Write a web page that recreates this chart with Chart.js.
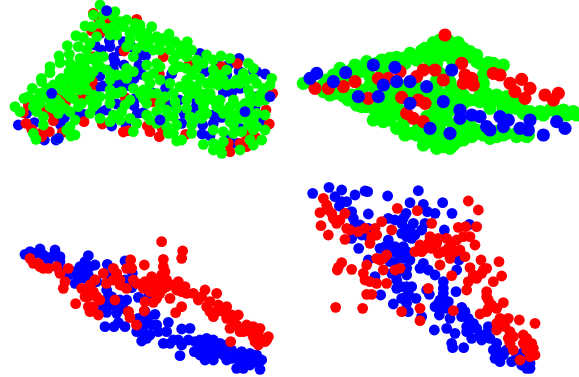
<!DOCTYPE html>
<html><head><meta charset="utf-8">
<style>html,body{margin:0;padding:0;background:#fff;width:579px;height:377px;overflow:hidden}
.p{position:absolute}</style>
<script src="https://cdn.jsdelivr.net/npm/chart.js@4"></script></head><body>
<div class="p" style="left:0;top:0;width:290px;height:170px"><canvas id="c1"></canvas></div>
<div class="p" style="left:290px;top:20px;width:289px;height:150px"><canvas id="c2"></canvas></div>
<div class="p" style="left:10px;top:225px;width:270px;height:152px"><canvas id="c3"></canvas></div>
<div class="p" style="left:300px;top:180px;width:250px;height:197px"><canvas id="c4"></canvas></div>
<script>
const aBlueBack=[[320,32],[155,280],[480,360],[175,415],[735,335],[810,290]];
const aGreen=[[300,15],[322,35],[345,35],[280,45],[255,78],[275,80],[228,107],[202,137],[177,168],[180,188],[150,200],[150,218],[124,235],[125,245],[97,265],[120,280],[72,295],[45,320],[60,335],[100,320],[130,350],[108,418],[175,415],[212,408],[225,405],[150,300],[160,255],[185,235],[207,215],[225,200],[240,175],[208,163],[235,140],[260,150],[250,112],[290,110],[340,50],[380,60],[405,70],[370,80],[400,90],[455,80],[507,102],[420,110],[450,120],[480,130],[505,125],[540,138],[562,125],[575,150],[620,165],[663,168],[690,175],[745,190],[760,205],[815,235],[810,255],[790,265],[795,300],[750,310],[745,330],[795,345],[795,390],[785,420],[760,435],[720,450],[665,460],[640,450],[610,433],[545,420],[530,423],[505,400],[470,370],[410,370],[360,360],[300,355],[280,320],[235,320],[210,335],[175,340],[240,250],[220,265],[200,280],[230,230],[260,210],[290,190],[310,170],[350,225],[400,170],[440,195],[470,190],[520,180],[540,200],[575,225],[600,190],[640,210],[650,240],[620,250],[590,260],[560,240],[540,260],[520,280],[480,240],[450,250],[430,270],[400,265],[440,310],[470,335],[500,350],[530,375],[575,375],[600,345],[650,320],[700,300],[690,340],[720,355],[700,375],[670,395],[760,360],[760,390],[580,280],[620,300],[630,280],[460,220],[380,205],[330,290],[300,290],[270,300],[340,345],[390,300],[520,350],[480,150],[440,140],[390,120],[350,105],[300,200],[250,190],[170,300],[130,290],[120,310],[130,375],[330,270],[365,275],[620,340],[670,425],[575,400],[210,380],[225,360],[400,395],[360,65],[390,100],[340,80],[320,85],[300,70],[420,90],[430,130],[460,150],[510,150],[530,165],[560,170],[590,180],[520,210],[560,205],[600,235],[640,180],[670,240],[700,250],[740,240],[730,220],[660,300],[720,320],[740,350],[670,340],[640,300],[610,320],[560,300],[510,250],[560,270],[470,280],[440,230],[400,215],[370,225],[330,220],[270,230],[250,230],[210,240],[190,260],[180,310],[220,295],[260,270],[140,265],[350,280],[420,280],[480,310],[500,330],[440,345],[390,355],[330,310],[290,310],[180,240],[240,210],[260,180],[210,190],[280,215],[770,250],[770,340],[750,420],[660,440],[640,430],[520,400],[590,355],[620,280],[600,280],[775,305],[700,360],[700,400],[500,380],[450,360],[350,350],[100,300],[85,290],[150,320]];
const aGreenExtra=[[420,75],[440,100],[470,110],[490,115],[525,125],[545,160],[480,200],[560,155],[610,190],[590,205],[640,235],[680,255],[710,240],[745,270],[780,285],[750,285],[735,310],[690,320],[660,325],[710,345],[745,375],[770,380],[725,395],[690,365],[640,390],[605,355],[570,350],[560,325],[530,325],[610,285],[655,255],[600,300],[570,255],[525,305],[495,290],[450,280],[430,295],[375,315],[365,335],[330,365],[270,340],[245,310],[195,325],[160,325],[210,290],[255,245],[280,285],[210,215],[185,270],[330,240],[380,235],[350,75],[310,45],[330,105],[380,140],[410,145],[270,130],[270,175],[290,170],[320,210],[240,270],[110,335],[100,400],[200,390],[640,250],[680,210],[660,225],[720,250],[760,235]];
const aRed=[[295,55],[280,40],[410,58],[320,60],[275,92],[305,95],[338,95],[280,170],[372,153],[490,170],[568,193],[665,200],[712,190],[478,222],[212,250],[277,245],[272,268],[245,287],[196,308],[178,285],[160,290],[85,315],[70,338],[125,330],[150,335],[78,370],[95,388],[120,400],[125,410],[148,395],[160,362],[187,397],[252,365],[307,372],[375,292],[438,300],[458,305],[488,297],[442,378],[450,395],[478,410],[370,396],[385,392],[486,385],[557,403],[685,430],[690,455],[720,430],[738,405],[740,440],[768,413],[808,372],[798,330],[818,280]];
const aBlue=[[55,375],[103,368],[80,340],[170,350],[193,353],[182,375],[133,420],[168,420],[230,340],[252,343],[258,295],[295,333],[318,330],[335,378],[378,375],[350,312],[405,296],[402,317],[412,340],[430,338],[460,280],[510,315],[538,300],[552,340],[545,370],[590,305],[585,325],[608,375],[606,402],[630,407],[640,370],[665,352],[640,345],[685,412],[712,430],[695,430],[735,390],[720,385],[780,365],[765,320],[770,290],[720,265],[695,278],[670,278],[615,215],[650,185],[680,225],[685,195],[717,175],[717,213],[760,212],[770,215],[795,222],[600,160],[515,222],[502,243],[497,265],[425,223],[402,236],[300,228],[293,262],[310,258],[325,258],[350,250],[362,253],[385,257],[417,195],[420,165],[437,167],[397,142],[370,125],[328,122],[330,140],[303,150],[360,152],[340,172],[345,185],[340,205],[372,195],[285,135],[310,70],[300,100]];

const bBlue=[[80,160],[60,175],[130,185],[167,158],[205,230],[265,230],[280,195],[250,135],[315,142],[320,185],[360,185],[410,200],[360,250],[420,325],[485,150],[460,245],[480,340],[510,270],[510,295],[570,290],[590,320],[630,290],[655,300],[690,325],[715,330],[760,345],[825,325],[800,305],[720,300],[600,330],[640,320],[545,285]];
const bRed=[[75,205],[115,205],[160,200],[195,185],[235,235],[265,175],[295,175],[330,155],[400,150],[435,150],[380,170],[460,180],[515,130],[525,165],[545,175],[550,195],[520,190],[610,160],[630,165],[660,190],[695,178],[720,205],[705,235],[765,225],[805,220],[790,240],[335,232],[405,250],[350,280],[370,295],[400,305],[465,45],[385,240],[675,215]];
const bGreen=[[40,190],[60,185],[100,215],[135,220],[175,240],[215,260],[260,290],[300,300],[340,330],[380,345],[420,365],[460,380],[490,375],[520,360],[560,340],[620,350],[680,340],[715,345],[830,285],[840,280],[800,275],[760,285],[720,275],[680,265],[640,260],[600,250],[560,240],[520,225],[480,210],[440,205],[150,145],[185,150],[230,145],[275,120],[320,112],[360,100],[405,85],[450,70],[490,70],[520,85],[560,105],[595,128],[640,135],[110,180],[130,165],[185,225],[240,195],[255,205],[300,130],[345,130],[440,240],[480,270],[430,280],[470,300],[450,330],[300,260],[280,270],[255,270],[310,210],[290,230],[380,120],[420,125],[460,105],[510,105],[490,125],[560,125],[590,150],[580,190],[590,220],[620,225],[650,230],[680,240],[450,160],[480,185],[500,210],[420,215],[440,180],[300,280],[340,310],[385,325],[400,345],[440,350],[520,340],[540,310],[560,330],[470,350],[620,335],[460,275],[445,300],[510,240],[540,240],[240,170],[170,175],[150,175],[340,200],[610,130],[260,265],[320,280],[345,345],[405,355],[380,110],[430,100],[470,90],[540,110],[570,130],[580,165],[480,110],[440,130],[410,110],[340,115],[300,115],[290,140],[260,130],[580,345],[640,345],[680,350],[820,270],[780,270],[740,280],[700,270],[660,265],[620,240],[570,225],[530,240],[490,225],[500,245],[470,225],[430,250],[440,260],[410,290],[490,315],[515,325],[380,200],[430,220],[360,215],[290,250],[200,255],[320,250],[340,275],[470,75],[445,90],[490,90],[530,105]];
const bGreenExtra=[[450,60],[475,62],[430,68],[505,68],[395,92],[540,95],[275,145],[230,125],[210,155],[195,135],[145,165],[100,195],[120,225],[160,228],[215,210],[230,260],[250,300],[280,305],[320,325],[360,340],[400,375],[440,385],[480,385],[500,365],[545,350],[600,355],[650,340],[710,350],[850,275],[860,285],[570,245],[600,265],[640,270],[700,280],[750,275],[520,250],[480,245],[450,225],[350,215],[370,225],[395,220],[315,240],[270,250],[300,240],[440,320],[415,300],[495,335],[535,325],[455,355],[485,355]];

const cBlue=[[45,88],[60,80],[90,72],[100,90],[115,105],[135,75],[150,95],[150,110],[148,135],[235,92],[225,110],[210,125],[190,140],[200,150],[230,130],[255,120],[235,150],[195,175],[292,118],[345,108],[367,145],[345,165],[365,188],[290,195],[295,215],[285,235],[330,225],[350,225],[385,217],[415,215],[290,262],[320,265],[340,250],[435,268],[415,275],[385,280],[405,295],[425,300],[285,305],[312,305],[325,293],[345,305],[380,320],[395,348],[420,330],[475,292],[470,320],[445,320],[460,355],[490,345],[515,360],[535,345],[515,312],[540,310],[510,392],[553,380],[570,345],[590,340],[610,345],[630,355],[585,405],[610,405],[590,375],[640,370],[665,375],[680,430],[700,430],[750,433],[695,380],[720,385],[740,390],[755,405],[735,410],[665,400],[640,390],[620,385],[700,410],[260,170],[300,150]];
const cBlueExtra=[[75,85],[125,95],[215,145],[240,125],[205,160],[175,150],[225,160],[310,240],[325,245],[305,215],[275,250],[405,260],[400,320],[400,280],[440,300],[390,300],[410,340],[480,355],[505,345],[555,350],[575,365],[600,360],[615,370],[650,360],[680,395],[605,390],[650,405],[710,395],[725,405],[570,390],[690,415],[720,420]];
const cRed=[[455,50],[518,78],[515,100],[460,103],[403,120],[362,105],[460,125],[350,130],[60,100],[70,115],[90,125],[115,130],[175,130],[150,145],[165,170],[160,190],[215,190],[240,180],[255,165],[280,145],[320,145],[310,165],[290,175],[350,190],[380,175],[400,190],[425,155],[455,150],[470,165],[505,170],[525,185],[500,195],[480,220],[440,185],[420,200],[450,205],[550,205],[585,195],[565,225],[620,205],[600,230],[625,240],[650,245],[600,260],[610,275],[650,280],[685,270],[670,290],[660,310],[710,300],[730,305],[750,310],[700,320],[730,335],[770,345],[745,360],[765,350],[197,236],[235,245],[240,260],[265,270],[235,215],[250,200],[315,225],[355,260],[360,278],[380,300],[403,258],[430,232],[405,230],[515,245],[497,263],[662,350],[270,225]];
const cRedExtra=[[85,115],[100,130],[140,125],[370,165],[405,170],[430,175],[415,185],[470,185],[490,180],[465,140],[445,165],[530,205],[515,200],[575,215],[640,260],[665,270],[620,260],[680,300],[690,320],[720,320],[745,330],[755,345],[735,350],[775,335],[240,195],[225,215],[260,215],[250,245],[330,180],[310,130],[330,165],[365,130],[440,220],[460,190],[590,245]];
const cRedFront=[[215,158],[255,165],[288,175],[315,225],[355,260],[380,300],[345,185],[403,258],[360,105]];

const dRed=[[505,63],[535,90],[292,85],[352,92],[70,55],[60,98],[95,100],[100,115],[135,100],[63,137],[85,165],[135,178],[140,145],[175,155],[210,190],[225,145],[245,125],[275,150],[395,130],[475,142],[530,140],[497,140],[390,170],[510,170],[525,195],[470,180],[440,175],[410,190],[375,205],[360,195],[430,215],[465,215],[495,230],[420,255],[455,287],[510,263],[543,240],[597,245],[560,265],[545,280],[605,288],[580,305],[530,295],[505,305],[500,330],[560,335],[565,360],[610,368],[590,385],[565,385],[230,235],[260,225],[250,270],[155,268],[125,248],[112,270],[200,255],[190,280],[210,305],[230,310],[260,310],[200,343],[215,343],[385,325],[107,382],[188,385],[305,395],[360,385],[360,422],[460,392],[540,402],[600,415],[625,415],[658,420],[705,430],[590,450],[630,455],[630,490],[670,465],[695,490],[705,525],[660,540],[700,505],[670,490],[300,265],[285,270],[240,240]];
const dRedExtra=[[80,75],[85,90],[110,130],[120,120],[150,150],[195,145],[230,165],[215,170],[385,190],[395,205],[415,220],[445,205],[455,190],[490,170],[415,175],[450,235],[480,210],[560,350],[575,375],[560,395],[590,430],[615,440],[640,470],[680,475],[640,510],[680,510],[625,475],[690,530],[115,262],[195,300],[250,235],[550,270],[520,285],[345,215],[365,215]];
const dBlue=[[38,40],[87,22],[125,30],[195,33],[203,35],[165,45],[263,48],[355,32],[330,68],[370,73],[428,68],[382,95],[405,100],[456,100],[508,133],[433,150],[105,50],[125,65],[140,65],[118,78],[155,95],[205,102],[160,115],[180,135],[205,145],[185,165],[208,175],[155,175],[176,205],[265,115],[285,120],[318,100],[305,130],[340,130],[375,130],[365,150],[320,150],[320,170],[345,165],[265,180],[240,205],[285,200],[310,200],[295,225],[205,240],[270,245],[330,240],[370,250],[385,270],[275,280],[320,285],[405,285],[225,290],[290,300],[290,325],[320,320],[335,320],[380,330],[388,343],[430,305],[430,325],[468,335],[242,345],[305,355],[348,355],[280,372],[320,370],[325,395],[365,410],[430,355],[445,365],[405,380],[425,385],[418,405],[403,450],[450,415],[485,382],[505,415],[485,410],[440,445],[465,460],[455,490],[458,503],[491,503],[500,440],[515,475],[540,465],[565,440],[570,475],[590,490],[595,515],[600,545],[635,545],[680,565],[690,550],[665,520],[620,510],[470,270],[477,240]];
const dBlueExtra=[[145,100],[165,135],[190,150],[310,115],[330,145],[305,160],[335,175],[255,200],[280,215],[320,215],[310,235],[285,250],[295,265],[320,265],[360,265],[290,280],[305,320],[325,340],[320,350],[420,360],[430,340],[415,370],[440,385],[495,395],[520,430],[500,455],[515,445],[530,445],[545,480],[560,460],[580,510],[610,525],[585,535],[670,540],[665,555],[680,530],[650,525],[690,565]];

const RED='#ff0000',GREEN='#00ff00',BLUE='#0000ff';
function panel(id,w,h,r,layers){
  new Chart(document.getElementById(id),{type:'scatter',
    data:{datasets:layers.map(([pts,c])=>({data:pts.map(([x,y])=>({x,y})),backgroundColor:c,borderColor:c,borderWidth:0,pointRadius:r,pointHoverRadius:r,clip:false}))},
    options:{responsive:false,animation:false,events:[],layout:{padding:0,autoPadding:false},
      plugins:{legend:{display:false},tooltip:{enabled:false}},
      scales:{x:{type:'linear',min:0,max:w*3,display:false},y:{type:'linear',min:0,max:h*3,reverse:true,display:false}}}});
}
[['c1',290,170],['c2',289,150],['c3',270,152],['c4',250,197]].forEach(([id,w,h])=>{const c=document.getElementById(id);c.width=w;c.height=h;c.style.width=w+'px';c.style.height=h+'px';});
panel('c1',290,170,5.4,[[aBlueBack,BLUE],[aGreen,GREEN],[aGreenExtra,GREEN],[aRed,RED],[aBlue,BLUE]]);
panel('c2',289,150,6.6,[[bBlue,BLUE],[bRed,RED],[bGreen,GREEN],[bGreenExtra,GREEN]]);
panel('c3',270,152,5.4,[[cRed,RED],[cRedExtra,RED],[cBlue,BLUE],[cBlueExtra,BLUE],[cRedFront,RED]]);
panel('c4',250,197,5.4,[[dRed,RED],[dRedExtra,RED],[dBlue,BLUE],[dBlueExtra,BLUE]]);
</script></body></html>
